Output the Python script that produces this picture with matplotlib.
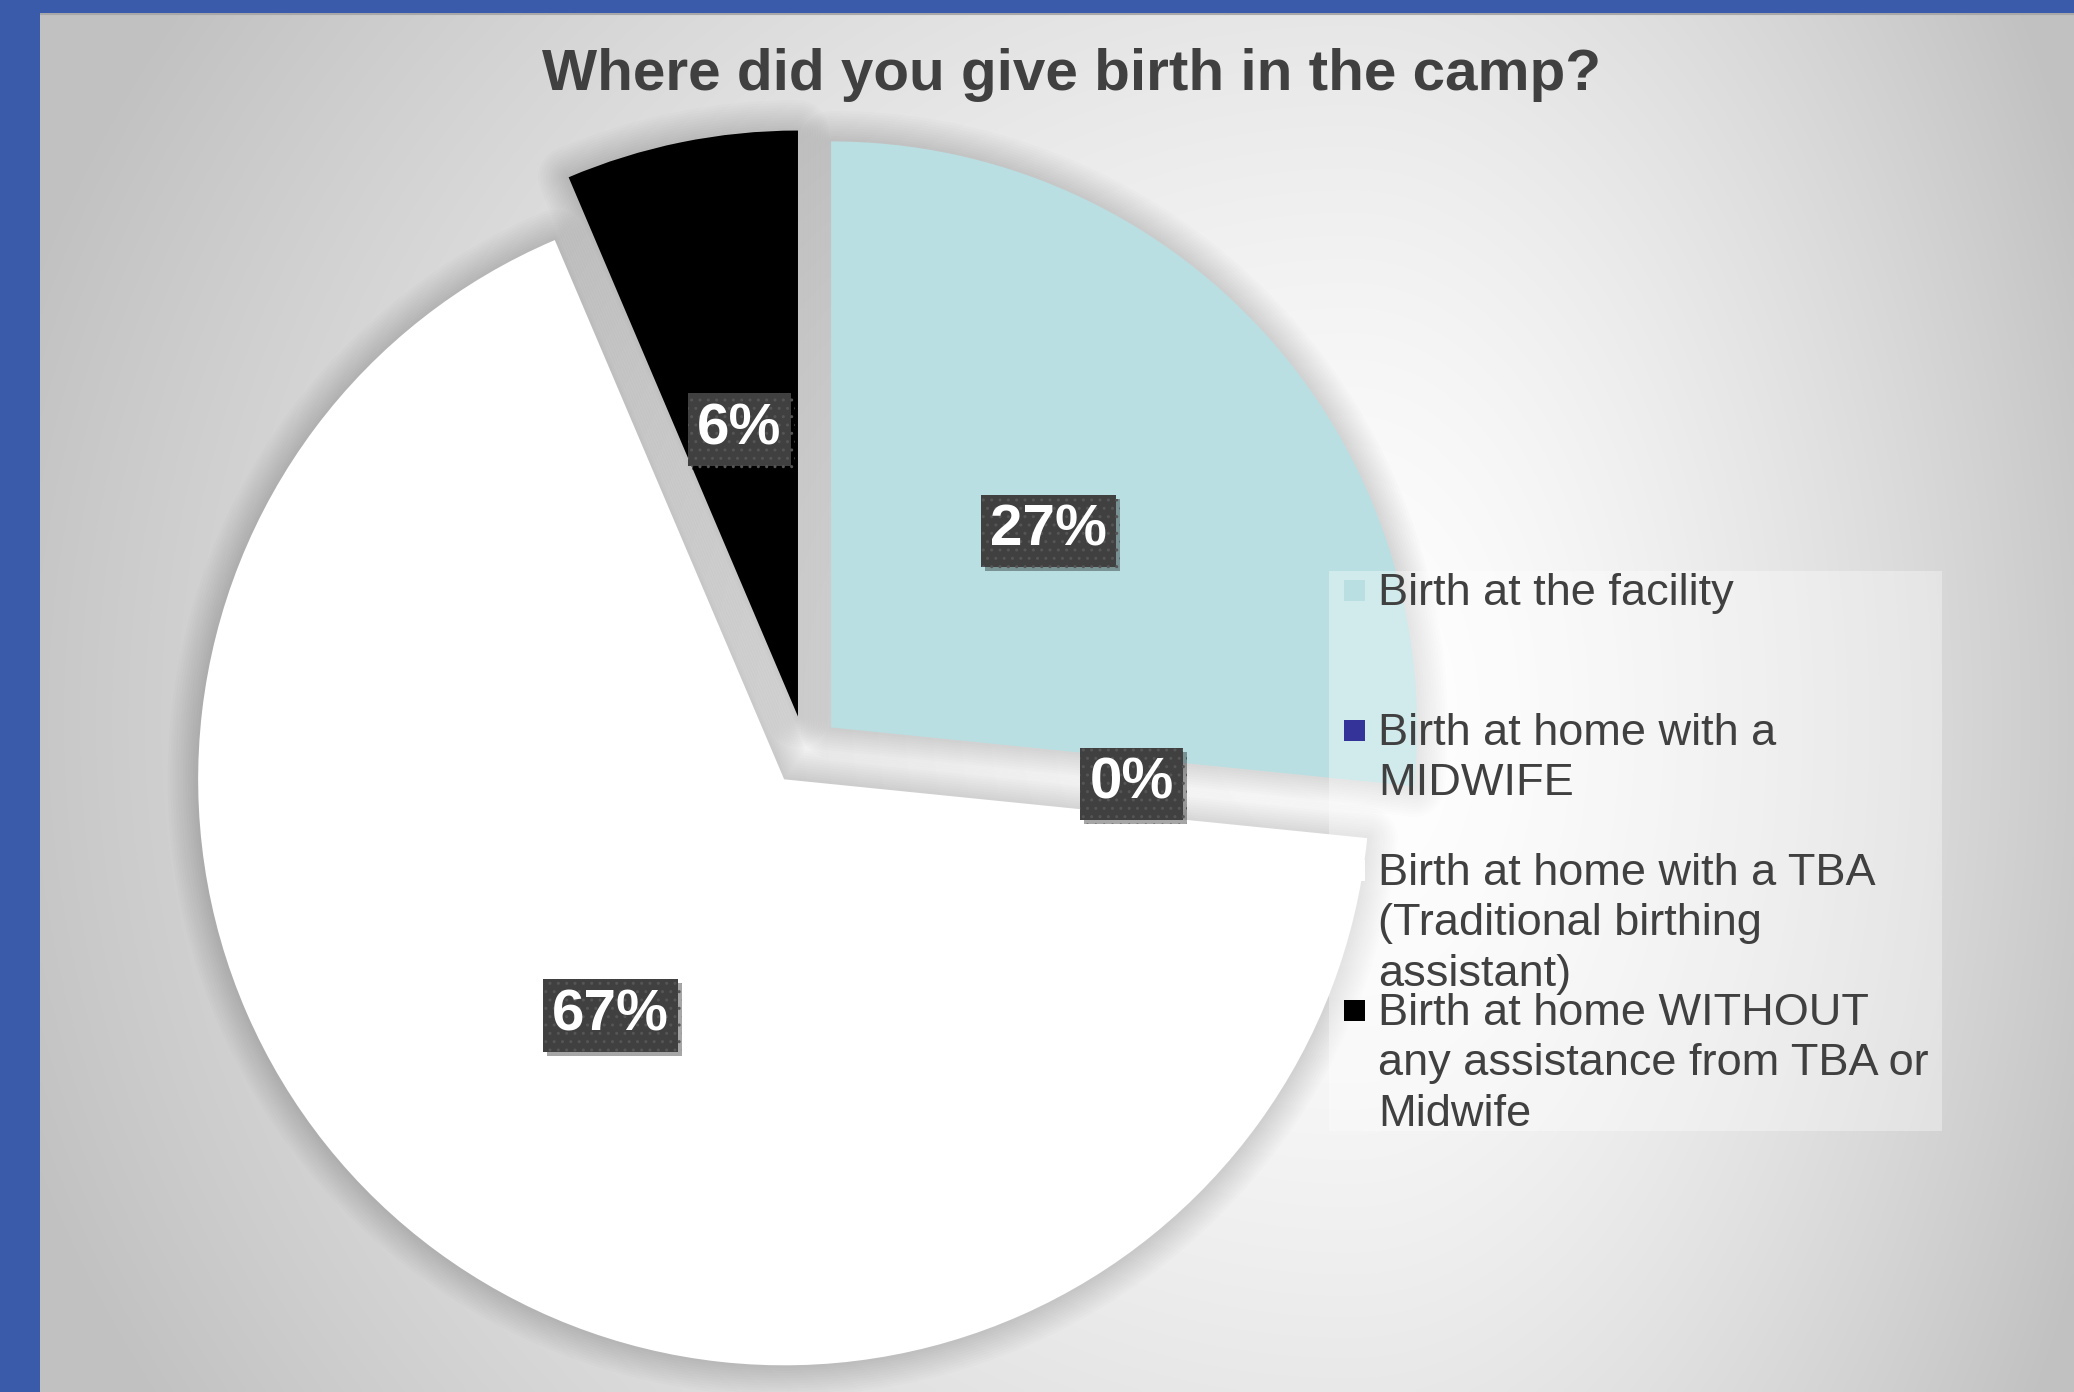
import numpy as np
import matplotlib
matplotlib.use('Agg')
import matplotlib.pyplot as plt
from matplotlib.patches import Wedge, Rectangle
import matplotlib.patheffects as pe

plt.rcParams['font.family'] = ['Liberation Sans', 'DejaVu Sans']

# survey answers (share of respondents, %)
categories = ['Birth at the facility',
              'Birth at home with a MIDWIFE',
              'Birth at home with a TBA (Traditional birthing assistant)',
              'Birth at home WITHOUT any assistance from TBA or Midwife']
legend_labels = ['Birth at the facility',
                 'Birth at home with a\nMIDWIFE',
                 'Birth at home with a TBA\n(Traditional birthing\nassistant)',
                 'Birth at home WITHOUT\nany assistance from TBA or\nMidwife']
shares = [26.6, 0, 67.0, 6.4]
colors = ['#b9dfe2', '#333399', '#ffffff', '#000000']
title = 'Where did you give birth in the camp?'

W, H = 2074, 1392
fig = plt.figure(figsize=(W / 100, H / 100), dpi=100, facecolor='#3a5ba9')

# chart area: grey radial gradient inside the blue frame
left, top = 40, 13
bg = fig.add_axes([left / W, 0, 1 - left / W, 1 - top / H])
yy, xx = np.mgrid[top:H:4, left:W:4]
gcx, gcy = 1350, 720
rx = np.where(xx < gcx, 1400.0, 800.0)
d = np.sqrt(((xx - gcx) / rx) ** 2 + ((yy - gcy) / 1300.0) ** 2)
d = np.clip(d, 0, 1) ** 1.5
g = 1 - d * (1 - 0.76)
bg.imshow(np.dstack([g, g, g]), extent=(left, W, H, top), aspect='auto',
          interpolation='bilinear')
bg.set_xlim(left, W)
bg.set_ylim(H, top)
bg.axhline(top + 1, color='#a8a8a8', lw=1.5)
bg.axis('off')

# pie, centre and radius in pixels
R = 586
pcx, pcy = 805, 751
ax = fig.add_axes([0, 0, 1, 1])
wedges, texts, autotexts = ax.pie(
    shares, colors=colors, startangle=90, counterclock=False,
    explode=[0.06] * len(shares), autopct='%.0f%%', pctdistance=0.5,
    textprops=dict(color='white', fontsize=42, fontweight='bold'),
    wedgeprops=dict(linewidth=0, zorder=3))
ax.set_xlim(-pcx / R, (W - pcx) / R)
ax.set_ylim(-(H - pcy) / R, pcy / R)
ax.set_aspect('auto')
ax.axis('off')

# soft shadow around each slice
for w in wedges:
    if w.theta2 - w.theta1 < 0.01:
        continue
    for lw in np.linspace(44, 4, 12):
        ax.add_patch(Wedge(w.center, w.r, w.theta1, w.theta2, fc='none',
                           ec=(0, 0, 0, 0.013), lw=lw, joinstyle='round', zorder=1))

for t in autotexts:
    t.set_zorder(6)
    t.set_bbox(dict(boxstyle='square,pad=0.16', fc='#404040', ec='#555555',
                    lw=0, hatch='..'))
    t.get_bbox_patch().set_path_effects([
        pe.SimplePatchShadow(offset=(3, -3), shadow_rgbFace='#000000', alpha=0.35),
        pe.Normal()])

# legend and title drawn in pixel coordinates
lg = fig.add_axes([0, 0, 1, 1])
lg.set_xlim(0, W)
lg.set_ylim(H, 0)
lg.axis('off')
lg.add_patch(Rectangle((1329, 571), 613, 560, fc='white', alpha=0.35, lw=0))
for i, (lab, c) in enumerate(zip(legend_labels, colors)):
    y = 590 + i * 140
    lg.add_patch(Rectangle((1344, y - 10.5), 21, 21, fc=c, lw=0))
    lg.text(1378, y - 17, lab, fontsize=32.5, color='#404040', ha='left',
            va='top', linespacing=1.29)

lg.text(1071, 90, title, fontsize=42, fontweight='bold', color='#404040',
        ha='center', va='baseline')

fig.savefig('out.png', dpi=100, facecolor=fig.get_facecolor())
